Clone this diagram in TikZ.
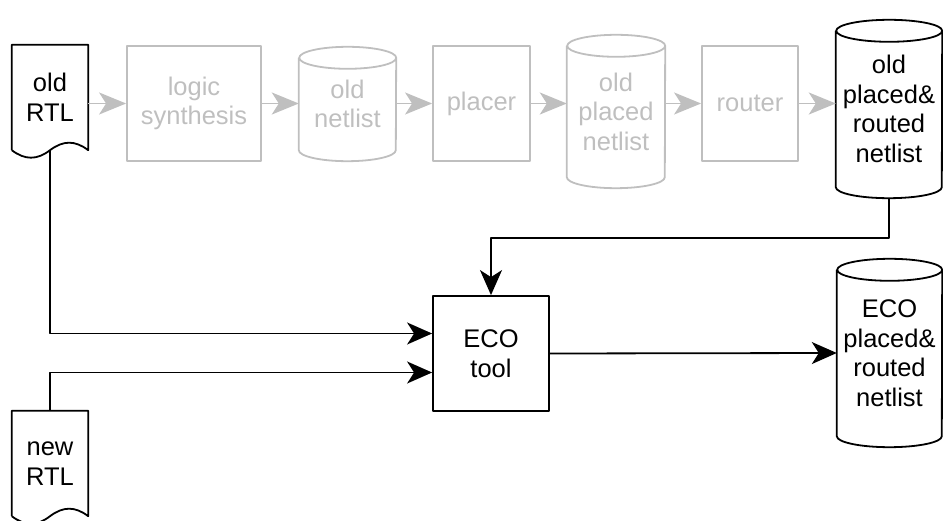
\documentclass[tikz,border=0pt]{standalone}
\usepackage{fontspec}
\setmainfont{Liberation Sans}
\usetikzlibrary{arrows.meta}
\definecolor{fadegray}{RGB}{191,191,191}

% outline of a database (cylinder) round a named node
\newcommand\dbdraw[3]{%
  \draw[#3] ([yshift=-11pt]#1.north west) -- ([yshift=11pt]#1.south west)
    arc[start angle=180, end angle=360, x radius=#2, y radius=11pt]
    -- ([yshift=-11pt]#1.north east)
    arc[start angle=0, end angle=180, x radius=#2, y radius=11pt]
    arc[start angle=180, end angle=360, x radius=#2, y radius=11pt];}
% outline of a document (wavy bottom) round a named node
\newcommand\docdraw[2]{%
  \draw[#2] (#1.south west) -- (#1.north west) -- (#1.north east) -- (#1.south east)
    .. controls ([xshift=-13pt,yshift=10pt]#1.south east) and ([xshift=-25pt,yshift=10pt]#1.south east) .. (#1.south)
    .. controls ([xshift=-13pt,yshift=-10pt]#1.south) and ([xshift=-25pt,yshift=-10pt]#1.south) .. (#1.south west);}

\tikzset{
  every node/.style={font=\fontsize{25.5}{29.5}\selectfont, align=center, inner sep=0pt},
  outline/.style={line width=1.8pt, line join=round},
  faded/.style={outline, draw=fadegray, text=fadegray},
  box/.style={rectangle, draw, outline},
  flow/.style={faded, -{Stealth[length=27pt, width=22pt, inset=7pt]}},
  link/.style={outline, -{Stealth[length=25pt, width=22pt, inset=7pt]}},
}

\begin{document}
\begin{tikzpicture}[x=1pt, y=-1pt]
  \useasboundingbox (0,0) rectangle (943,521);

  % old flow (faded)
  \node (oldrtl) [minimum width=76pt, minimum height=105pt] at (50,97.5) {old\\RTL};
  \docdraw{oldrtl}{outline}
  \node (synth) [box, faded, minimum width=134pt, minimum height=115pt] at (194,103.5) {logic\\synthesis};
  \node (oldnet) [text=fadegray, minimum width=97pt, minimum height=114pt] at (347.5,104) {old\\netlist};
  \dbdraw{oldnet}{48.5pt}{faded}
  \node (placer) [box, faded, minimum width=97pt, minimum height=115pt] at (481.5,103.5) {placer};
  \node (oldplaced) [text=fadegray, minimum width=98pt, minimum height=153pt] at (616,111.5) {old\\placed\\netlist};
  \dbdraw{oldplaced}{49pt}{faded}
  \node (router) [box, faded, minimum width=96pt, minimum height=115pt] at (750,103.5) {router};
  \node (oldpr) [minimum width=106pt, minimum height=178pt] at (889,109) {old\\placed\&\\routed\\netlist};
  \dbdraw{oldpr}{53pt}{outline}

  % ECO flow
  \node (eco) [box, minimum width=116pt, minimum height=115pt] at (491,353.5) {ECO\\tool};
  \node (ecodb) [minimum width=105pt, minimum height=188pt] at (889.5,353) {ECO\\placed\&\\routed\\netlist};
  \dbdraw{ecodb}{52.5pt}{outline}
  \node (newrtl) [minimum width=76pt, minimum height=105pt] at (50,463.5) {new\\RTL};
  \docdraw{newrtl}{outline}

  \draw[flow] (oldrtl.east |- synth.west) -- (synth.west);
  \draw[flow] (synth.east) -- (synth.east -| oldnet.west);
  \draw[flow] (oldnet.east |- placer.west) -- (placer.west);
  \draw[flow] (placer.east) -- (placer.east -| oldplaced.west);
  \draw[flow] (oldplaced.east |- router.west) -- (router.west);
  \draw[flow] (router.east) -- (router.east -| oldpr.west);

  \coordinate (bend) at (491,238);
  \draw[link] (oldpr.south) |- (bend) -- (eco.north);
  \draw[link] (oldrtl.south) |- ([yshift=20pt]eco.west);
  \draw[link] (newrtl.north) |- ([yshift=-19pt]eco.west);
  \draw[link] (eco.east) -- (ecodb.west);
\end{tikzpicture}
\end{document}
